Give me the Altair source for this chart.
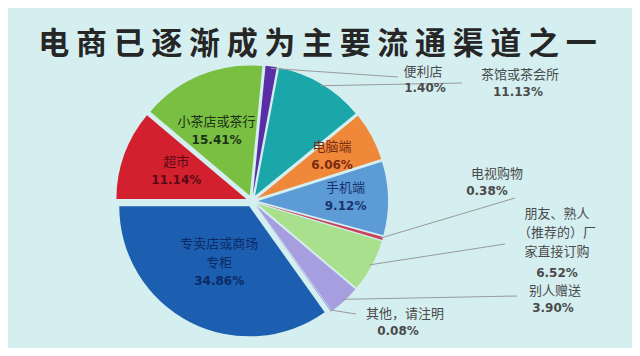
import math
import altair as alt
import pandas as pd

# ---- data ----
categories = ["便利店", "茶馆或茶会所", "电脑端", "手机端", "电视购物",
              "朋友、熟人（推荐的）厂家直接订购", "别人赠送", "其他，请注明",
              "专卖店或商场专柜", "超市", "小茶店或茶行"]
shares = [1.40, 11.13, 6.06, 9.12, 0.38, 6.52, 3.90, 0.08, 34.86, 11.14, 15.41]
name_lines = ["便利店", "茶馆或茶会所", "电脑端", "手机端", "电视购物",
              "朋友、熟人\n（推荐的）厂\n家直接订购", "别人赠送", "其他，请注明",
              "专卖店或商场\n专柜", "超市", "小茶店或茶行"]
title_text = "电商已逐渐成为主要流通渠道之一"

# ---- styles / layout ----
colors = ["#5a2ea6", "#1ba6a9", "#f0883a", "#5c9bd6", "#c8405a", "#a9e08e",
          "#a79ee0", "#7d8fd0", "#1c5fb0", "#d2202f", "#79c042"]
inside_colors = {"电脑端": "#7a2a10", "手机端": "#18336e", "专卖店或商场专柜": "#0c2a66",
                 "超市": "#5a0a12", "小茶店或茶行": "#1c301a"}
W, H = 624, 340
M = 8
CX, CY = 252 - M, 201 - M
R, D = 130, 6
START = math.radians(5.6)
inside_r = {"电脑端": 0.70, "手机端": 0.72, "专卖店或商场专柜": 0.55,
            "超市": 0.62, "小茶店或茶行": 0.60}
inside_shift = {"小茶店或茶行": (-6, 4)}
# outside labels: (name top centre, pct top centre, leader end) in page pixels
outside = {
    "便利店": ((423, 66), (425, 83), (398, 77)),
    "茶馆或茶会所": ((520, 69), (518, 87), (462, 83)),
    "电视购物": ((497, 168), (487, 186), (515, 198)),
    "朋友、熟人（推荐的）厂家直接订购": ((557, 208), (557, 268), (505, 244)),
    "别人赠送": ((555, 285), (553, 303), (517, 296)),
    "其他，请注明": ((405, 308), (398, 326), (356, 314)),
}
LH_NAME, LH_PCT = 19, 15
TITLE_X0, TITLE_X1, TITLE_Y = 35, 600, 45

# ---- build tables ----
rows, labels, leaders = [], [], []
cum = 0.0
for cat, v, nl in zip(categories, shares, name_lines):
    t0, t1 = cum, cum + v
    cum = t1
    mid = START + (t0 + t1) / 2 / 100 * 2 * math.pi
    sx, sy = math.sin(mid), -math.cos(mid)
    rows.append({"cat": cat, "t0": t0, "t1": t1, "cx": CX + D * sx, "cy": CY + D * sy})
    pct = f"{v:.2f}%"
    if cat in inside_r:
        ox, oy = inside_shift.get(cat, (0, 0))
        lx = CX + inside_r[cat] * R * sx + ox
        ly = CY + inside_r[cat] * R * sy + oy
        n = nl.count("\n") + 1
        total = n * LH_NAME + LH_PCT
        top = ly - total / 2
        labels.append({"cat": cat, "name": nl, "pct": pct, "nx": lx, "ny": top,
                       "px": lx, "py": top + n * LH_NAME, "tc": inside_colors[cat]})
    else:
        (nx, ny), (px, py), (ex, ey) = outside[cat]
        labels.append({"cat": cat, "name": nl, "pct": pct, "nx": nx - M, "ny": ny - M,
                       "px": px - M, "py": py - M, "tc": "#4a4a4a"})
        rr = R + D - 2
        leaders.append({"cat": cat, "x1": CX + rr * sx, "y1": CY + rr * sy,
                        "x2": ex - M, "y2": ey - M})

slices = pd.DataFrame(rows)
lab = pd.DataFrame(labels)
lead = pd.DataFrame(leaders)
n_ch = len(title_text)
step = (TITLE_X1 - TITLE_X0) / n_ch
title_df = pd.DataFrame({
    "ch": list(title_text),
    "x": [TITLE_X0 + step * (i + 0.5) - M for i in range(n_ch)],
    "y": [TITLE_Y - M] * n_ch,
})

xs = alt.Scale(domain=[0, W], range=[0, W])
ys = alt.Scale(domain=[0, H], range=[0, H])
FONT = "Noto Sans CJK SC"

pie = alt.Chart(slices).mark_arc(outerRadius=R).encode(
    x=alt.X("cx:Q", scale=xs, axis=None),
    y=alt.Y("cy:Q", scale=ys, axis=None),
    theta=alt.Theta("t0:Q", scale=alt.Scale(domain=[0, 100], range=[START, START + 2 * math.pi])),
    theta2="t1:Q",
    color=alt.Color("cat:N", scale=alt.Scale(domain=categories, range=colors), legend=None),
)

lines = alt.Chart(lead).mark_rule(color="#9a9a9a", strokeWidth=1).encode(
    x=alt.X("x1:Q", scale=xs, axis=None), y=alt.Y("y1:Q", scale=ys, axis=None),
    x2="x2:Q", y2="y2:Q",
)

names = alt.Chart(lab).mark_text(font=FONT, fontSize=13, baseline="top", align="center",
                                 lineBreak="\n", lineHeight=LH_NAME).encode(
    x=alt.X("nx:Q", scale=xs, axis=None), y=alt.Y("ny:Q", scale=ys, axis=None),
    text="name:N", color=alt.Color("tc:N", scale=None),
)

pcts = alt.Chart(lab).mark_text(font="DejaVu Sans", fontSize=12, fontWeight="bold",
                                baseline="top", align="center").encode(
    x=alt.X("px:Q", scale=xs, axis=None), y=alt.Y("py:Q", scale=ys, axis=None),
    text="pct:N", color=alt.Color("tc:N", scale=None),
)

title = alt.Chart(title_df).mark_text(
    font=FONT, fontSize=31, fontWeight="bold", color="#262626",
    baseline="middle", align="center"
).encode(x=alt.X("x:Q", scale=xs, axis=None), y=alt.Y("y:Q", scale=ys, axis=None), text="ch:N")

chart = alt.layer(pie, lines, names, pcts, title).properties(
    width=W, height=H, padding=0, autosize="none"
).configure(background="#d5eff0").configure_view(stroke=None)

chart.save("out.html", embed_options={"renderer": "svg", "actions": False})
